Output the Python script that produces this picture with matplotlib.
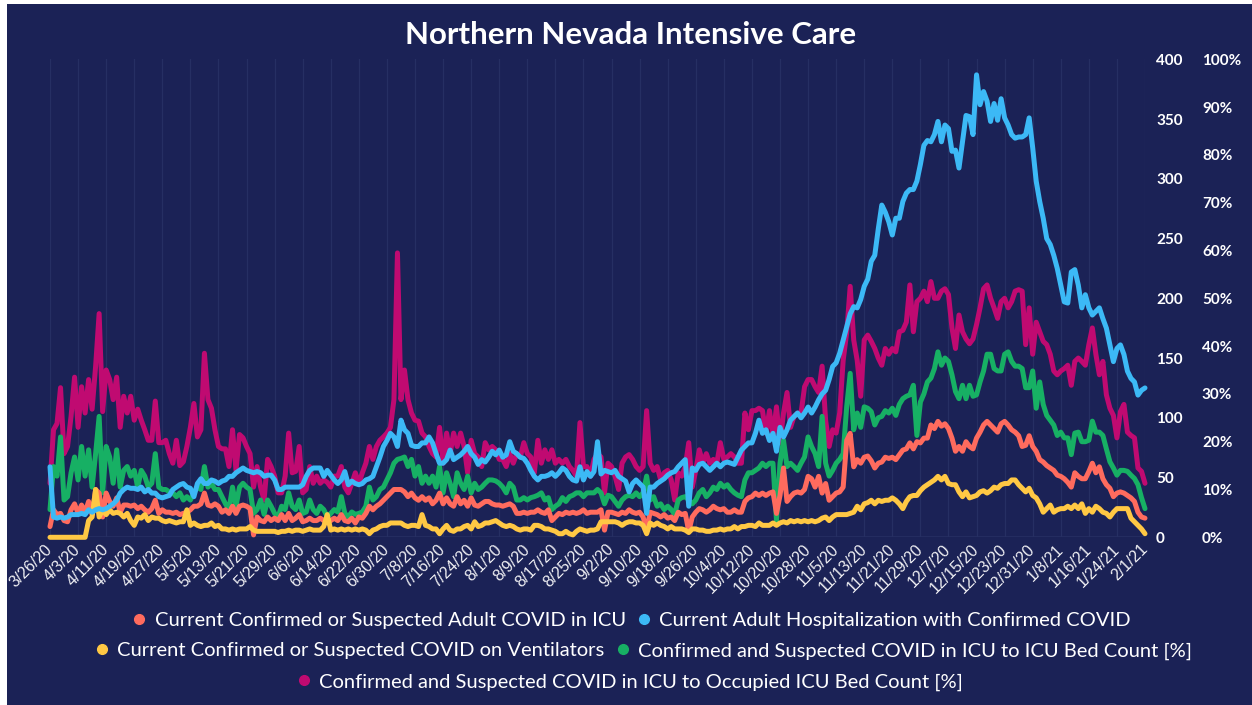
import matplotlib
matplotlib.use("Agg")
import matplotlib.pyplot as plt
from matplotlib.patches import Rectangle
from matplotlib.lines import Line2D
import pandas as pd

# ---------------- data ----------------
start_date = "2020-03-26"
end_date = "2021-02-01"

tick_labels = ["3/26/20", "4/3/20", "4/11/20", "4/19/20", "4/27/20", "5/5/20", "5/13/20",
               "5/21/20", "5/29/20", "6/6/20", "6/14/20", "6/22/20", "6/30/20", "7/8/20",
               "7/16/20", "7/24/20", "8/1/20", "8/9/20", "8/17/20", "8/25/20", "9/2/20",
               "9/10/20", "9/18/20", "9/26/20", "10/4/20", "10/12/20", "10/20/20", "10/28/20",
               "11/5/20", "11/13/20", "11/21/20", "11/29/20", "12/7/20", "12/15/20",
               "12/23/20", "12/31/20", "1/8/21", "1/16/21", "1/24/21", "2/1/21"]

icu_adult = [
    9, 23, 19, 20, 14, 13, 23, 28, 20, 27,
    21, 30, 19, 40, 37, 17, 37, 30, 26, 33,
    21, 27, 27, 26, 27, 24, 26, 23, 21, 24,
    31, 20, 23, 21, 21, 20, 21, 19, 20, 21,
    23, 26, 26, 28, 37, 27, 26, 28, 26, 21,
    23, 20, 26, 20, 26, 27, 26, 24, 2, 17,
    14, 13, 17, 14, 16, 14, 19, 14, 20, 14,
    16, 19, 13, 14, 16, 14, 14, 16, 14, 12,
    14, 16, 14, 19, 14, 13, 16, 12, 17, 16,
    20, 26, 23, 26, 28, 31, 34, 37, 40, 40,
    40, 38, 34, 37, 33, 31, 34, 31, 33, 28,
    31, 37, 28, 33, 28, 26, 34, 28, 31, 26,
    33, 27, 26, 28, 30, 30, 28, 27, 27, 26,
    27, 28, 26, 20, 20, 21, 20, 21, 21, 23,
    21, 20, 23, 14, 17, 20, 19, 21, 20, 21,
    20, 21, 23, 20, 21, 21, 21, 23, 6, 21,
    21, 20, 19, 21, 20, 23, 21, 20, 21, 17,
    6, 21, 20, 19, 17, 19, 16, 17, 14, 21,
    19, 20, 5, 17, 21, 24, 23, 21, 23, 26,
    24, 23, 24, 21, 21, 23, 21, 21, 30, 33,
    34, 37, 35, 37, 35, 37, 38, 20, 35, 58,
    30, 34, 37, 38, 37, 40, 51, 49, 42, 51,
    37, 45, 31, 34, 37, 38, 42, 81, 87, 59,
    65, 62, 67, 68, 64, 58, 62, 63, 67, 66,
    67, 65, 69, 73, 74, 79, 74, 80, 79, 83,
    83, 94, 91, 97, 93, 95, 91, 83, 72, 76,
    72, 80, 76, 74, 83, 88, 94, 97, 94, 91,
    88, 95, 97, 94, 90, 88, 85, 76, 77, 85,
    76, 72, 65, 63, 60, 58, 56, 52, 51, 49,
    46, 42, 54, 51, 49, 49, 55, 62, 54, 59,
    49, 44, 41, 34, 37, 38, 37, 35, 33, 30,
    21, 17, 16]

hospitalized = [
    59, 17, 16, 17, 16, 17, 19, 19, 19, 20,
    19, 23, 21, 23, 24, 23, 24, 26, 28, 31,
    37, 40, 42, 41, 41, 40, 42, 38, 40, 37,
    37, 34, 33, 34, 35, 40, 42, 44, 45, 42,
    41, 34, 45, 49, 45, 45, 48, 47, 45, 47,
    48, 51, 51, 54, 56, 58, 56, 55, 54, 55,
    54, 51, 52, 52, 48, 40, 40, 42, 42, 42,
    42, 42, 44, 51, 56, 58, 58, 58, 51, 56,
    52, 48, 45, 48, 55, 44, 47, 45, 44, 45,
    48, 49, 51, 59, 67, 76, 81, 87, 84, 76,
    98, 90, 87, 77, 76, 76, 79, 79, 84, 79,
    70, 62, 62, 65, 73, 65, 67, 69, 72, 76,
    70, 67, 61, 65, 63, 67, 72, 69, 73, 67,
    69, 80, 72, 70, 67, 66, 62, 56, 51, 48,
    51, 51, 52, 54, 51, 54, 58, 56, 51, 48,
    47, 59, 48, 55, 51, 55, 80, 53, 56, 55,
    54, 56, 51, 49, 47, 38, 45, 48, 45, 42,
    20, 42, 42, 45, 47, 49, 52, 54, 55, 59,
    62, 65, 26, 58, 56, 61, 62, 59, 56, 59,
    62, 59, 62, 63, 62, 61, 67, 73, 76, 79,
    79, 87, 98, 87, 90, 81, 87, 72, 92, 84,
    90, 98, 101, 104, 100, 104, 109, 104, 109, 115,
    120, 123, 132, 143, 146, 154, 165, 176, 187, 193,
    192, 199, 210, 216, 231, 236, 258, 278, 272, 264,
    253, 267, 267, 281, 288, 291, 291, 298, 312, 328,
    332, 331, 337, 348, 331, 345, 342, 323, 324, 309,
    331, 353, 352, 337, 387, 362, 373, 365, 348, 363,
    349, 367, 351, 345, 337, 334, 335, 335, 337, 351,
    326, 298, 281, 267, 250, 245, 236, 225, 211, 197,
    196, 222, 224, 211, 192, 203, 192, 186, 189, 192,
    183, 175, 161, 147, 158, 161, 153, 139, 133, 130,
    119, 123, 125]

ventilators = [
    0, 0, 0, 0, 0, 0, 0, 0, 0, 0,
    0, 14, 17, 40, 17, 23, 19, 23, 20, 21,
    20, 17, 20, 14, 10, 17, 16, 19, 14, 17,
    16, 16, 14, 13, 14, 13, 12, 13, 13, 23,
    10, 12, 10, 9, 10, 10, 12, 9, 10, 7,
    7, 6, 7, 6, 7, 7, 7, 9, 6, 5,
    5, 5, 5, 5, 5, 4, 5, 5, 6, 5,
    6, 6, 5, 6, 7, 6, 6, 6, 9, 19,
    6, 7, 6, 7, 6, 7, 6, 7, 6, 7,
    6, 3, 6, 7, 9, 10, 10, 12, 12, 12,
    12, 10, 9, 10, 10, 9, 19, 10, 9, 7,
    7, 3, 7, 10, 6, 5, 7, 7, 9, 10,
    7, 13, 9, 10, 12, 12, 13, 14, 12, 10,
    9, 10, 9, 7, 6, 7, 7, 6, 10, 10,
    9, 7, 7, 6, 5, 3, 3, 5, 3, 2,
    5, 7, 6, 5, 6, 6, 7, 13, 13, 13,
    13, 13, 12, 10, 12, 13, 13, 12, 12, 10,
    3, 12, 10, 12, 10, 9, 7, 9, 7, 7,
    7, 6, 4, 7, 7, 6, 6, 5, 5, 6,
    6, 7, 6, 7, 7, 9, 7, 9, 9, 10,
    10, 9, 12, 10, 10, 10, 12, 10, 12, 13,
    12, 14, 13, 14, 13, 14, 13, 14, 13, 14,
    16, 17, 14, 17, 19, 19, 19, 19, 20, 21,
    26, 23, 28, 29, 31, 28, 31, 30, 31, 31,
    33, 31, 28, 24, 30, 34, 35, 35, 39, 42,
    44, 46, 48, 51, 48, 51, 45, 44, 44, 38,
    34, 38, 33, 34, 35, 38, 39, 37, 39, 42,
    41, 44, 45, 45, 48, 48, 44, 41, 38, 41,
    35, 33, 28, 21, 24, 27, 21, 23, 24, 24,
    26, 24, 27, 24, 28, 20, 24, 21, 26, 24,
    21, 20, 17, 21, 24, 24, 24, 24, 16, 13,
    10, 7, 3]

icu_to_bed_pct = [
    5.8, 14.8, 12.8, 21.0, 7.8, 8.5, 13.5, 16.8, 12.0, 19.0,
    12.8, 18.3, 10.5, 17.5, 25.3, 9.3, 19.0, 16.8, 11.3, 18.3,
    10.5, 14.0, 14.8, 12.8, 14.0, 10.5, 14.0, 12.8, 10.5, 11.3,
    17.5, 10.5, 10.0, 10.0, 9.5, 9.3, 8.5, 9.3, 7.8, 8.5,
    7.8, 9.3, 10.5, 10.0, 14.8, 10.5, 11.3, 10.0, 10.0, 8.5,
    7.0, 5.8, 10.5, 6.5, 10.5, 11.3, 10.5, 10.0, 5.0, 5.8,
    7.8, 4.8, 7.8, 6.5, 5.0, 4.3, 6.5, 5.8, 9.3, 6.5,
    5.8, 7.8, 5.0, 5.3, 7.8, 5.8, 5.0, 6.5, 5.8, 4.3,
    5.0, 5.8, 5.3, 8.5, 5.0, 4.3, 5.3, 4.8, 5.0, 5.3,
    6.5, 10.5, 7.8, 8.5, 10.0, 10.5, 12.0, 13.5, 15.5, 16.3,
    16.5, 16.8, 14.8, 16.3, 12.8, 14.8, 11.3, 12.8, 11.3, 12.8,
    10.5, 14.8, 9.3, 13.5, 11.3, 8.5, 13.5, 11.3, 10.0, 12.8,
    9.3, 11.3, 10.0, 10.5, 11.3, 12.0, 12.0, 11.8, 11.3, 10.5,
    9.3, 11.3, 10.5, 7.8, 7.8, 8.3, 7.8, 8.3, 8.5, 8.8,
    9.3, 7.8, 8.3, 5.8, 6.5, 7.0, 8.3, 7.5, 8.5, 8.8,
    9.3, 9.3, 8.5, 9.3, 9.3, 9.3, 10.0, 9.3, 7.0, 8.8,
    8.5, 7.5, 6.5, 7.8, 8.5, 8.8, 8.5, 9.3, 8.5, 9.3,
    12.8, 7.8, 8.5, 6.5, 7.0, 5.8, 6.5, 5.8, 4.8, 7.8,
    8.3, 8.5, 7.8, 7.0, 7.8, 9.3, 10.0, 8.5, 9.3, 10.5,
    10.0, 11.3, 10.5, 11.0, 10.0, 9.3, 8.8, 8.5, 12.0, 13.5,
    13.5, 14.0, 14.5, 15.5, 14.8, 15.5, 15.5, 3.5, 15.5, 20.3,
    14.8, 15.5, 14.8, 14.0, 15.5, 16.8, 21.0, 19.0, 17.5, 14.8,
    25.3, 15.5, 12.8, 14.0, 15.5, 16.3, 17.5, 27.3, 34.3, 22.5,
    26.0, 23.0, 27.3, 27.0, 26.3, 23.5, 25.0, 25.3, 26.5, 26.0,
    27.0, 25.5, 27.8, 29.0, 29.5, 29.8, 31.8, 21.3, 28.3, 30.0,
    32.5, 33.3, 35.3, 38.8, 36.0, 37.5, 36.8, 34.0, 30.5, 29.0,
    31.8, 29.0, 31.8, 29.5, 29.8, 32.5, 34.8, 38.3, 38.3, 35.3,
    34.8, 34.8, 38.3, 38.8, 36.8, 35.8, 35.8, 35.3, 31.3, 31.3,
    34.8, 27.0, 32.5, 27.8, 25.5, 24.5, 23.5, 21.3, 22.0, 20.8,
    20.8, 17.3, 21.8, 22.0, 20.0, 20.0, 20.3, 24.3, 22.0, 22.0,
    21.3, 18.5, 15.8, 14.5, 13.0, 14.0, 14.0, 13.8, 13.0, 12.3,
    11.0, 8.3, 6.0]

icu_to_occupied_pct = [
    11.3, 22.5, 23.8, 31.3, 17.5, 19.0, 25.3, 33.5, 23.0, 31.5,
    26.0, 33.0, 26.8, 35.8, 46.8, 26.3, 35.0, 33.0, 28.8, 33.5,
    23.0, 29.5, 26.0, 29.5, 24.5, 26.8, 24.5, 22.5, 20.3, 20.3,
    28.5, 19.8, 19.8, 20.3, 17.5, 15.5, 20.3, 15.0, 15.8, 19.0,
    23.0, 28.0, 21.0, 22.5, 38.5, 28.8, 27.0, 22.5, 19.0, 18.5,
    18.5, 14.8, 22.5, 14.0, 21.5, 20.8, 19.0, 17.5, 10.5, 14.8,
    10.5, 7.8, 16.3, 14.8, 12.8, 9.3, 9.3, 12.8, 21.8, 13.5,
    13.8, 19.0, 9.3, 10.0, 14.8, 11.3, 12.8, 11.3, 12.0, 11.5,
    10.5, 12.8, 12.8, 14.8, 10.5, 9.3, 11.3, 13.5, 11.3, 13.5,
    15.5, 19.0, 16.3, 19.0, 20.3, 21.0, 21.8, 23.0, 28.8, 59.5,
    28.8, 35.0, 28.8, 26.0, 24.5, 24.3, 21.8, 21.0, 19.0, 17.5,
    16.8, 23.0, 15.5, 21.8, 17.5, 21.8, 19.0, 21.8, 19.0, 13.5,
    20.3, 17.5, 16.8, 14.8, 19.8, 18.3, 19.0, 18.3, 16.3, 16.3,
    14.8, 17.5, 15.5, 17.5, 16.8, 19.8, 17.5, 16.8, 13.5, 20.3,
    15.5, 18.3, 16.3, 18.3, 15.5, 16.3, 15.5, 16.3, 14.8, 14.0,
    12.8, 24.0, 14.8, 14.8, 12.8, 16.3, 17.5, 16.8, 9.3, 15.5,
    14.8, 12.8, 10.0, 15.5, 16.8, 17.3, 16.3, 14.8, 14.0, 14.8,
    26.5, 15.5, 14.0, 14.8, 12.0, 13.5, 14.0, 12.0, 7.8, 13.5,
    12.8, 14.8, 19.8, 10.5, 14.0, 18.3, 15.5, 17.5, 15.5, 16.3,
    15.5, 19.8, 16.3, 16.8, 17.5, 16.8, 15.5, 15.5, 26.0, 22.5,
    26.5, 26.5, 27.0, 26.5, 21.8, 26.5, 21.0, 27.3, 19.8, 26.0,
    30.3, 23.0, 25.3, 26.0, 26.0, 31.5, 33.0, 33.0, 31.5, 30.3,
    35.8, 24.5, 19.0, 22.5, 21.8, 26.0, 37.0, 42.8, 52.5, 41.3,
    37.0, 29.5, 41.3, 42.3, 41.0, 39.5, 37.5, 36.0, 39.5, 38.3,
    39.5, 38.8, 43.0, 43.3, 45.0, 52.8, 43.0, 49.3, 50.0, 51.5,
    49.3, 53.5, 50.0, 50.0, 51.5, 52.0, 50.8, 43.8, 39.5, 46.5,
    43.0, 41.5, 40.5, 41.5, 44.5, 48.0, 52.0, 52.8, 50.0, 48.0,
    45.8, 49.3, 50.0, 48.0, 49.3, 51.5, 51.8, 51.5, 40.3, 48.0,
    38.3, 45.0, 43.0, 41.0, 40.3, 38.3, 34.8, 34.0, 34.8, 35.3,
    36.0, 31.8, 36.8, 37.5, 36.8, 36.0, 40.3, 43.8, 38.3, 34.0,
    36.8, 29.8, 27.0, 25.5, 20.8, 26.3, 27.8, 22.0, 21.3, 20.8,
    14.5, 13.8, 11.3]

count_ticks = [0, 50, 100, 150, 200, 250, 300, 350, 400]
pct_ticks = [0, 10, 20, 30, 40, 50, 60, 70, 80, 90, 100]

series_names = [
    "Current Confirmed or Suspected Adult COVID in ICU",
    "Current Adult Hospitalization with Confirmed COVID",
    "Current Confirmed or Suspected COVID on Ventilators",
    "Confirmed and Suspected COVID in ICU to ICU Bed Count [%]",
    "Confirmed and Suspected COVID in ICU to Occupied ICU Bed Count [%]",
]

# ---------------- style ----------------
NAVY = "#1b2256"
GRID = "#262f63"
C_RED = "#ff6b5e"
C_BLUE = "#3cb9f6"
C_YEL = "#ffc844"
C_GRN = "#17b064"
C_MAG = "#c00a71"
LW = 3.6

W, H = 1252, 705
fig = plt.figure(figsize=(W / 100, H / 100), dpi=100, facecolor="white")
fig.patches.append(Rectangle((7 / W, 0), 1 - 7 / W, 1 - 4 / H, transform=fig.transFigure,
                             facecolor=NAVY, edgecolor="none", zorder=-10))

left, right = 50 / W, 1145 / W
bottom, top = 1 - 537.3 / H, 1 - 59.3 / H
ax = fig.add_axes([left, bottom, right - left, top - bottom])   # percent axis (below)
ax2 = ax.twinx()                                                  # count axis (above)
for a in (ax, ax2):
    a.patch.set_visible(False)
    for s in a.spines.values():
        s.set_visible(False)

dates = pd.date_range(start_date, end_date, freq="D")

common = dict(lw=LW, solid_joinstyle="round", solid_capstyle="round", clip_on=False)
ax.plot(dates, icu_to_occupied_pct, color=C_MAG, zorder=3, **common)
ax.plot(dates, icu_to_bed_pct, color=C_GRN, zorder=4, **common)
ax2.plot(dates, icu_adult, color=C_RED, zorder=3, **common)
ax2.plot(dates, ventilators, color=C_YEL, zorder=4, **common)
ax2.plot(dates, hospitalized, color=C_BLUE, zorder=5, **common)

ax.set_xlim(dates[0], dates[-1])
ax.set_ylim(0, 100)
ax2.set_ylim(0, 400)

ax.set_axisbelow(True)
ax.set_xticks(dates[::8])
ax.set_xticklabels(tick_labels, rotation=45, ha="right", va="center",
                   rotation_mode="anchor", color="#f0f0f4", fontsize=11.5,
                   family=["Liberation Sans", "DejaVu Sans"])
ax.tick_params(axis="x", length=0, pad=7)
ax.grid(axis="x", color=GRID, lw=0.9)
ax.axhline(0, color=GRID, lw=1.2, zorder=0)

ax.yaxis.tick_right()
ax.set_yticks(pct_ticks)
ax.set_yticklabels([f"{p}%" for p in pct_ticks], color="white", fontsize=11,
                   fontweight="bold", family=["Lato", "DejaVu Sans"])
ax.tick_params(axis="y", length=0, pad=41)

ax2.set_yticks(count_ticks)
ax2.set_yticklabels([str(c) for c in count_ticks], color="white", fontsize=11,
                    fontweight="bold", family=["Lato", "DejaVu Sans"])
ax2.tick_params(axis="y", length=0, pad=8)

fig.text(630.5 / W, 1 - 35 / H, "Northern Nevada Intensive Care", color="white",
         fontsize=22.5, fontweight="bold", ha="center", va="center",
         family=["Lato", "DejaVu Sans"])

# legend in three wrapped rows
colors = [C_RED, C_BLUE, C_YEL, C_GRN, C_MAG]
rows = [([0, 1], 632, 620), ([2, 3], 644, 651), ([4], 630, 682)]
for idx, cx, cy in rows:
    handles = [Line2D([], [], ls="", marker="o", markersize=7, color=colors[i]) for i in idx]
    labels = [series_names[i] for i in idx]
    leg = fig.legend(handles, labels, ncol=len(idx), loc="center",
                     bbox_to_anchor=(cx / W, 1 - cy / H), frameon=False,
                     handlelength=0.6, handletextpad=0.45, columnspacing=0.6,
                     borderaxespad=0, borderpad=0,
                     prop={"family": ["Lato", "DejaVu Sans"], "size": 14.5})
    for t in leg.get_texts():
        t.set_color("white")

fig.savefig("out.png", dpi=100, facecolor=fig.get_facecolor())
